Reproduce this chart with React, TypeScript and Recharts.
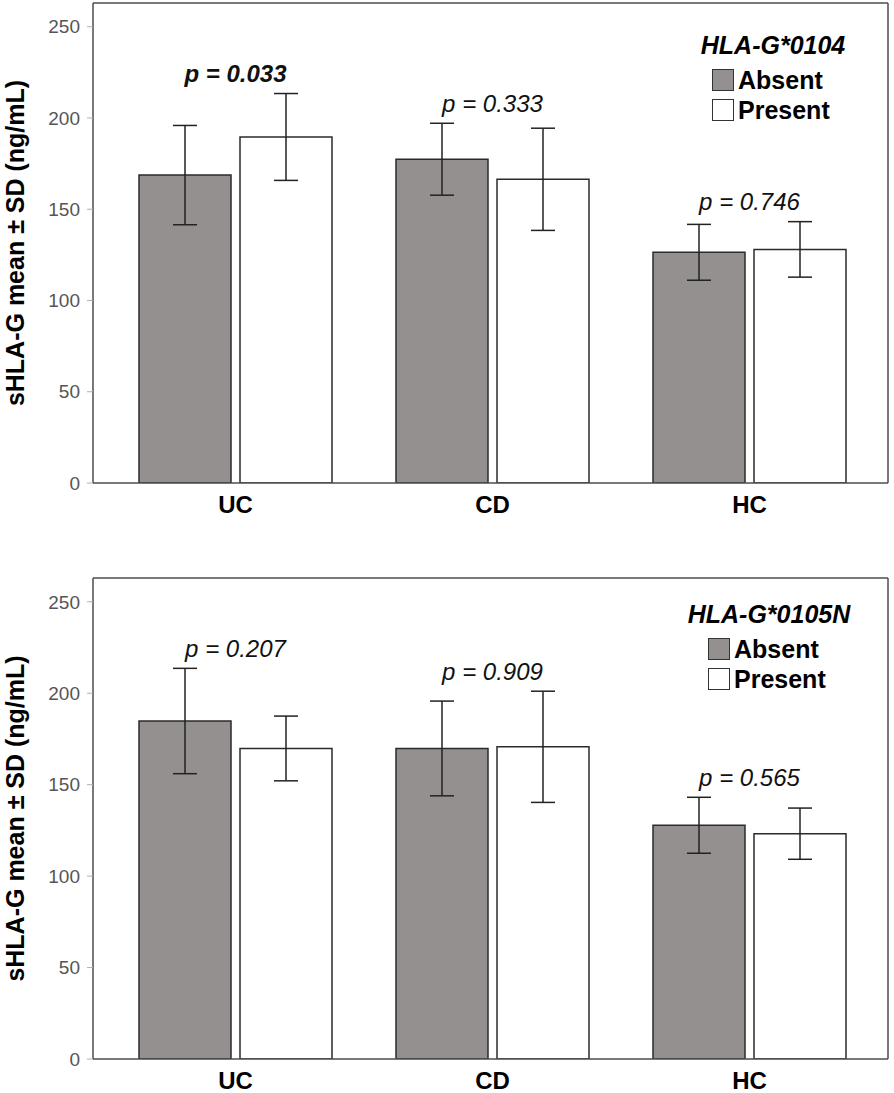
import React from 'react';
import { ComposedChart, Bar, Line, XAxis, YAxis, ErrorBar, LabelList, Legend } from 'recharts';

const FONT = '"Liberation Sans", Arial, Helvetica, sans-serif';

const categories = ['UC', 'CD', 'HC'];
const seriesNames = ['Absent', 'Present'];
const yTicks = [0, 50, 100, 150, 200, 250];

// HLA-G*0104
const absent0104 = [168.7, 177.4, 126.4];
const absentSd0104 = [27.2, 19.7, 15.3];
const present0104 = [189.6, 166.4, 128.0];
const presentSd0104 = [23.8, 28.0, 15.2];
const pValues0104 = ['0.033', '0.333', '0.746'];

// HLA-G*0105N
const absent0105N = [184.8, 169.8, 127.8];
const absentSd0105N = [28.8, 25.9, 15.3];
const present0105N = [169.8, 170.7, 123.2];
const presentSd0105N = [17.7, 30.4, 14.0];
const pValues0105N = ['0.207', '0.909', '0.565'];

const ABSENT_FILL = '#94908f';
const PRESENT_FILL = '#ffffff';
const FRAME = '#4d4d4d';

const buildRows = (abs: number[], absSd: number[], pres: number[], presSd: number[], p: string[]) =>
  categories.map((cat, i) => ({
    cat,
    absent: abs[i],
    absentSd: absSd[i],
    present: pres[i],
    presentSd: presSd[i],
    p: p[i],
    pTop: Math.max(abs[i] + absSd[i], pres[i] + presSd[i]),
  }));

const renderP = (props: any) => {
  const { x, y, value } = props;
  if (x == null || y == null) return null;
  const sig = parseFloat(value) < 0.05;
  return (
    <text
      x={x}
      y={y - 20}
      textAnchor="middle"
      dominantBaseline="central"
      fontFamily={FONT}
      fontSize={24}
      fontStyle="italic"
      fontWeight={sig ? 700 : 400}
      fill="#111"
    >
      {`p = ${value}`}
    </text>
  );
};

const XTick = (props: any) => {
  const { x, y, payload } = props;
  return (
    <text x={x} y={y + 30} textAnchor="middle" fontFamily={FONT} fontSize={24} fontWeight={700} fill="#000">
      {payload.value}
    </text>
  );
};

const yTitle = (props: any) => {
  const vb = props && props.viewBox ? props.viewBox : null;
  const cy = vb && vb.height ? vb.y + vb.height / 2 : 243;
  return (
    <text
      x={15}
      y={cy}
      transform={`rotate(-90, 15, ${cy})`}
      textAnchor="middle"
      dominantBaseline="central"
      fontFamily={FONT}
      fontSize={25}
      fontWeight={700}
      fill="#000"
    >
      sHLA-G mean ± SD (ng/mL)
    </text>
  );
};

const makeLegend = (gene: string) => (props: any) => {
  const items = (props.payload || []).filter((e: any) => seriesNames.includes(e.value));
  return (
    <div style={{ width: 180, fontFamily: FONT, color: '#000' }}>
      <div style={{ textAlign: 'center', fontSize: 25, fontWeight: 700, fontStyle: 'italic', lineHeight: '28px', marginBottom: 6 }}>
        {gene}
      </div>
      {items.map((e: any) => (
        <div key={e.value} style={{ display: 'flex', alignItems: 'center', height: 30, paddingLeft: 29 }}>
          <span
            style={{
              display: 'inline-block',
              width: 22,
              height: 22,
              boxSizing: 'border-box',
              background: e.value === 'Absent' ? ABSENT_FILL : PRESENT_FILL,
              border: '1.5px solid #333',
            }}
          />
          <span style={{ fontSize: 25, fontWeight: 700, marginLeft: 4, lineHeight: '30px' }}>{e.value}</span>
        </div>
      ))}
    </div>
  );
};

interface PanelProps {
  rows: any[];
  gene: string;
  height: number;
  marginBottom: number;
  xAxisHeight: number;
  legendLeft: number;
  legendTop: number;
}

const Panel: React.FC<PanelProps> = ({ rows, gene, height, marginBottom, xAxisHeight, legendLeft, legendTop }) => (
  <ComposedChart
    width={894}
    height={height}
    data={rows}
    margin={{ top: 2, right: 5, bottom: marginBottom, left: 0 }}
    barSize={92}
    barGap={9}
  >
    <XAxis
      dataKey="cat"
      height={xAxisHeight}
      padding={{ left: 14, right: 10 }}
      axisLine={{ stroke: FRAME, strokeWidth: 1.5 }}
      tickLine={false}
      tickSize={0}
      tickMargin={0}
      tick={<XTick />}
      interval={0}
    />
    <XAxis
      xAxisId="top"
      dataKey="cat"
      orientation="top"
      height={1}
      tick={false}
      tickLine={false}
      axisLine={{ stroke: FRAME, strokeWidth: 1.5 }}
    />
    <YAxis
      width={93}
      domain={[0, 263]}
      ticks={yTicks}
      allowDataOverflow
      axisLine={{ stroke: FRAME, strokeWidth: 1.5 }}
      tickLine={{ stroke: '#b0b0b0' }}
      tickSize={6}
      tickMargin={7}
      tick={{ fill: '#555', fontSize: 19, fontFamily: FONT }}
      label={yTitle}
    />
    <YAxis
      yAxisId="right"
      orientation="right"
      width={1}
      domain={[0, 263]}
      tick={false}
      tickLine={false}
      axisLine={{ stroke: FRAME, strokeWidth: 1.5 }}
    />
    <Legend
      layout="vertical"
      align="center"
      verticalAlign="middle"
      content={makeLegend(gene)}
      wrapperStyle={{ left: legendLeft, top: legendTop, width: 180 }}
    />
    <Bar dataKey="absent" name="Absent" fill={ABSENT_FILL} stroke="#2b2b2b" strokeWidth={1.5} isAnimationActive={false}>
      <ErrorBar dataKey="absentSd" width={12} stroke="#222" strokeWidth={1.5} />
    </Bar>
    <Bar dataKey="present" name="Present" fill={PRESENT_FILL} stroke="#2b2b2b" strokeWidth={1.5} isAnimationActive={false}>
      <ErrorBar dataKey="presentSd" width={12} stroke="#222" strokeWidth={1.5} />
    </Bar>
    <Line dataKey="pTop" stroke="none" dot={false} activeDot={false} legendType="none" isAnimationActive={false}>
      <LabelList dataKey="p" content={renderP} />
    </Line>
  </ComposedChart>
);

export default function App() {
  const rows0104 = buildRows(absent0104, absentSd0104, present0104, presentSd0104, pValues0104);
  const rows0105N = buildRows(absent0105N, absentSd0105N, present0105N, presentSd0105N, pValues0105N);
  return (
    <div style={{ position: 'absolute', left: 0, top: 0, width: 894, height: 1093, background: '#fff' }}>
      <div style={{ position: 'absolute', left: 0, top: 0 }}>
        <Panel rows={rows0104} gene="HLA-G*0104" height={530} marginBottom={7} xAxisHeight={40} legendLeft={683} legendTop={31} />
      </div>
      <div style={{ position: 'absolute', left: 0, top: 575 }}>
        <Panel rows={rows0105N} gene="HLA-G*0105N" height={518} marginBottom={0} xAxisHeight={34} legendLeft={679} legendTop={25} />
      </div>
    </div>
  );
}
